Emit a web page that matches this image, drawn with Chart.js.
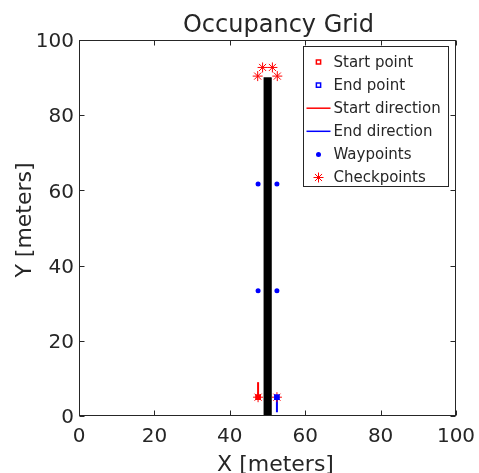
<!DOCTYPE html>
<html>
<head>
<meta charset="utf-8">
<script src="https://cdn.jsdelivr.net/npm/chart.js@4.4.0/dist/chart.umd.min.js"></script>
<style>
  html, body { margin: 0; background: #fff; }
  canvas { display: block; }
</style>
</head>
<body>
<canvas id="grid" width="479" height="473"></canvas>
<script>
// --- Data (meters) ---
const xTicks = [0, 20, 40, 60, 80, 100];
const yTicks = [0, 20, 40, 60, 80, 100];

const obstacleX = [49, 49, 51, 51];
const obstacleY = [0, 90, 90, 0];

const startPointX = [47.5];
const startPointY = [5];
const endPointX = [52.5];
const endPointY = [5];

const startDirX = [47.5, 47.5];
const startDirY = [5, 9];
const endDirX = [52.5, 52.5];
const endDirY = [5, 1];

const waypointX = [47.5, 52.5, 47.5, 52.5];
const waypointY = [33.3, 33.3, 61.7, 61.7];

const checkpointX = [47.5, 52.5, 47.4, 48.7, 51.3, 52.6];
const checkpointY = [5, 5, 90.4, 92.7, 92.7, 90.4];

const legendLabels = ['Start point', 'End point', 'Start direction', 'End direction', 'Waypoints', 'Checkpoints'];

const TEXT = '#262626';
const FONT = 'DejaVu Sans';

function pts(xs, ys) {
    return xs.map((x, i) => ({ x: x, y: ys[i] }));
}

const datasets = [
    {
        label: legendLabels[0], data: pts(startPointX, startPointY), order: 1,
        pointStyle: 'rect', pointRadius: 3, borderColor: '#ff0000', backgroundColor: '#ff0000',
        pointBorderWidth: 1.5, showLine: false, inLegend: true
    },
    {
        label: legendLabels[1], data: pts(endPointX, endPointY), order: 1,
        pointStyle: 'rect', pointRadius: 3, borderColor: '#0000ff', backgroundColor: '#0000ff',
        pointBorderWidth: 1.5, showLine: false, inLegend: true
    },
    {
        label: legendLabels[2], data: pts(startDirX, startDirY), order: 4,
        showLine: true, borderColor: '#ff0000', borderWidth: 2, pointRadius: 0, inLegend: true
    },
    {
        label: legendLabels[3], data: pts(endDirX, endDirY), order: 4,
        showLine: true, borderColor: '#0000ff', borderWidth: 2, pointRadius: 0, inLegend: true
    },
    {
        label: legendLabels[4], data: pts(waypointX, waypointY), order: 3,
        pointStyle: 'circle', pointRadius: 2.5, borderColor: '#0000ff', backgroundColor: '#0000ff',
        pointBorderWidth: 0, showLine: false, inLegend: true
    },
    {
        label: legendLabels[5], data: pts(checkpointX, checkpointY), order: 2,
        pointStyle: 'star', pointRadius: 5, borderColor: '#ff0000', backgroundColor: '#ff0000',
        pointBorderWidth: 1, showLine: false, inLegend: true
    },
    {
        label: 'Obstacle', data: pts(obstacleX, obstacleY), order: 6,
        showLine: true, fill: 'origin', borderColor: '#000', backgroundColor: '#000',
        borderWidth: 0.5, pointRadius: 0, inLegend: false
    }
];

// --- Frame, inward ticks, titles and legend box ---
const decorations = {
    id: 'decorations',
    afterDraw(chart) {
        const { ctx, chartArea: a, scales: { x, y } } = chart;
        const L = Math.round(a.left) + 0.5, R = Math.round(a.right) - 0.5;
        const T = Math.round(a.top) + 0.5, B = Math.round(a.bottom) - 0.5;
        const tick = 5;

        ctx.save();
        ctx.strokeStyle = TEXT;
        ctx.lineWidth = 1;
        ctx.strokeRect(L, T, R - L, B - T);
        ctx.beginPath();
        xTicks.forEach(v => {
            const px = Math.round(x.getPixelForValue(v)) + 0.5;
            ctx.moveTo(px, B); ctx.lineTo(px, B - tick);
            ctx.moveTo(px, T); ctx.lineTo(px, T + tick);
        });
        yTicks.forEach(v => {
            const py = Math.round(y.getPixelForValue(v)) + 0.5;
            ctx.moveTo(L, py); ctx.lineTo(L + tick, py);
            ctx.moveTo(R, py); ctx.lineTo(R - tick, py);
        });
        ctx.stroke();

        // titles
        const cx = (a.left + a.right) / 2, cy = (a.top + a.bottom) / 2;
        ctx.fillStyle = TEXT;
        ctx.textBaseline = 'alphabetic';
        ctx.textAlign = 'center';
        ctx.font = `24px "${FONT}"`;
        ctx.fillText('Occupancy Grid', cx + 11, a.top - 8);
        ctx.font = `22px "${FONT}"`;
        ctx.fillText('X [meters]', cx + 8, a.bottom + 55);
        ctx.save();
        ctx.translate(31, cy - 8);
        ctx.rotate(-Math.PI / 2);
        ctx.fillText('Y [meters]', 0, 0);
        ctx.restore();

        // legend
        const bx = 303.5, by = 46.5, bw = 145, bh = 140;
        ctx.fillStyle = '#fff';
        ctx.fillRect(bx, by, bw, bh);
        ctx.strokeStyle = TEXT;
        ctx.strokeRect(bx, by, bw, bh);
        const rowH = 23.1, firstY = by + 15.5;
        let row = 0;
        chart.data.datasets.forEach(ds => {
            if (!ds.inLegend) return;
            const ry = firstY + row * rowH;
            const mx = bx + 15;
            if (ds.showLine) {
                ctx.strokeStyle = ds.borderColor;
                ctx.lineWidth = 1.5;
                ctx.beginPath();
                ctx.moveTo(bx + 3, ry); ctx.lineTo(bx + 27, ry);
                ctx.stroke();
            } else {
                ctx.strokeStyle = ds.borderColor;
                ctx.fillStyle = ds.pointStyle === 'rect' ? '#fff' : ds.backgroundColor;
                ctx.lineWidth = ds.pointStyle === 'rect' ? 1.5 : 1;
                Chart.helpers.drawPoint(ctx, {
                    pointStyle: ds.pointStyle,
                    radius: ds.pointStyle === 'rect' ? 3 : (ds.pointStyle === 'star' ? 5 : 2.5),
                    rotation: 0,
                    borderWidth: ds.pointStyle === 'circle' ? 0 : ctx.lineWidth
                }, mx, ry);
            }
            ctx.fillStyle = TEXT;
            ctx.font = `15px "${FONT}"`;
            ctx.textAlign = 'left';
            ctx.textBaseline = 'middle';
            ctx.fillText(ds.label, bx + 30, ry + 1);
            row++;
        });
        ctx.restore();
    }
};

function noPad(s) {
    s.paddingLeft = 0; s.paddingRight = 0; s.paddingTop = 0; s.paddingBottom = 0;
}

new Chart(document.getElementById('grid'), {
    type: 'scatter',
    data: { datasets: datasets },
    options: {
        responsive: false,
        devicePixelRatio: 1,
        animation: false,
        layout: { padding: { top: 40, right: 23, left: 0, bottom: 0 } },
        plugins: {
            legend: { display: false },
            title: { display: false },
            tooltip: { enabled: false }
        },
        scales: {
            x: {
                type: 'linear', min: 0, max: 100,
                afterBuildTicks: s => { s.ticks = xTicks.map(v => ({ value: v })); },
                afterFit: s => { s.height = 57; noPad(s); },
                grid: { display: false, drawTicks: false },
                border: { display: false },
                ticks: { color: TEXT, padding: 9, maxRotation: 0, font: { family: FONT, size: 20 } }
            },
            y: {
                type: 'linear', min: 0, max: 100,
                afterBuildTicks: s => { s.ticks = yTicks.map(v => ({ value: v })); },
                afterFit: s => { s.width = 79; noPad(s); },
                grid: { display: false, drawTicks: false },
                border: { display: false },
                ticks: { color: TEXT, padding: 5, labelOffset: 2, font: { family: FONT, size: 20 } }
            }
        }
    },
    plugins: [decorations]
});
</script>
</body>
</html>
